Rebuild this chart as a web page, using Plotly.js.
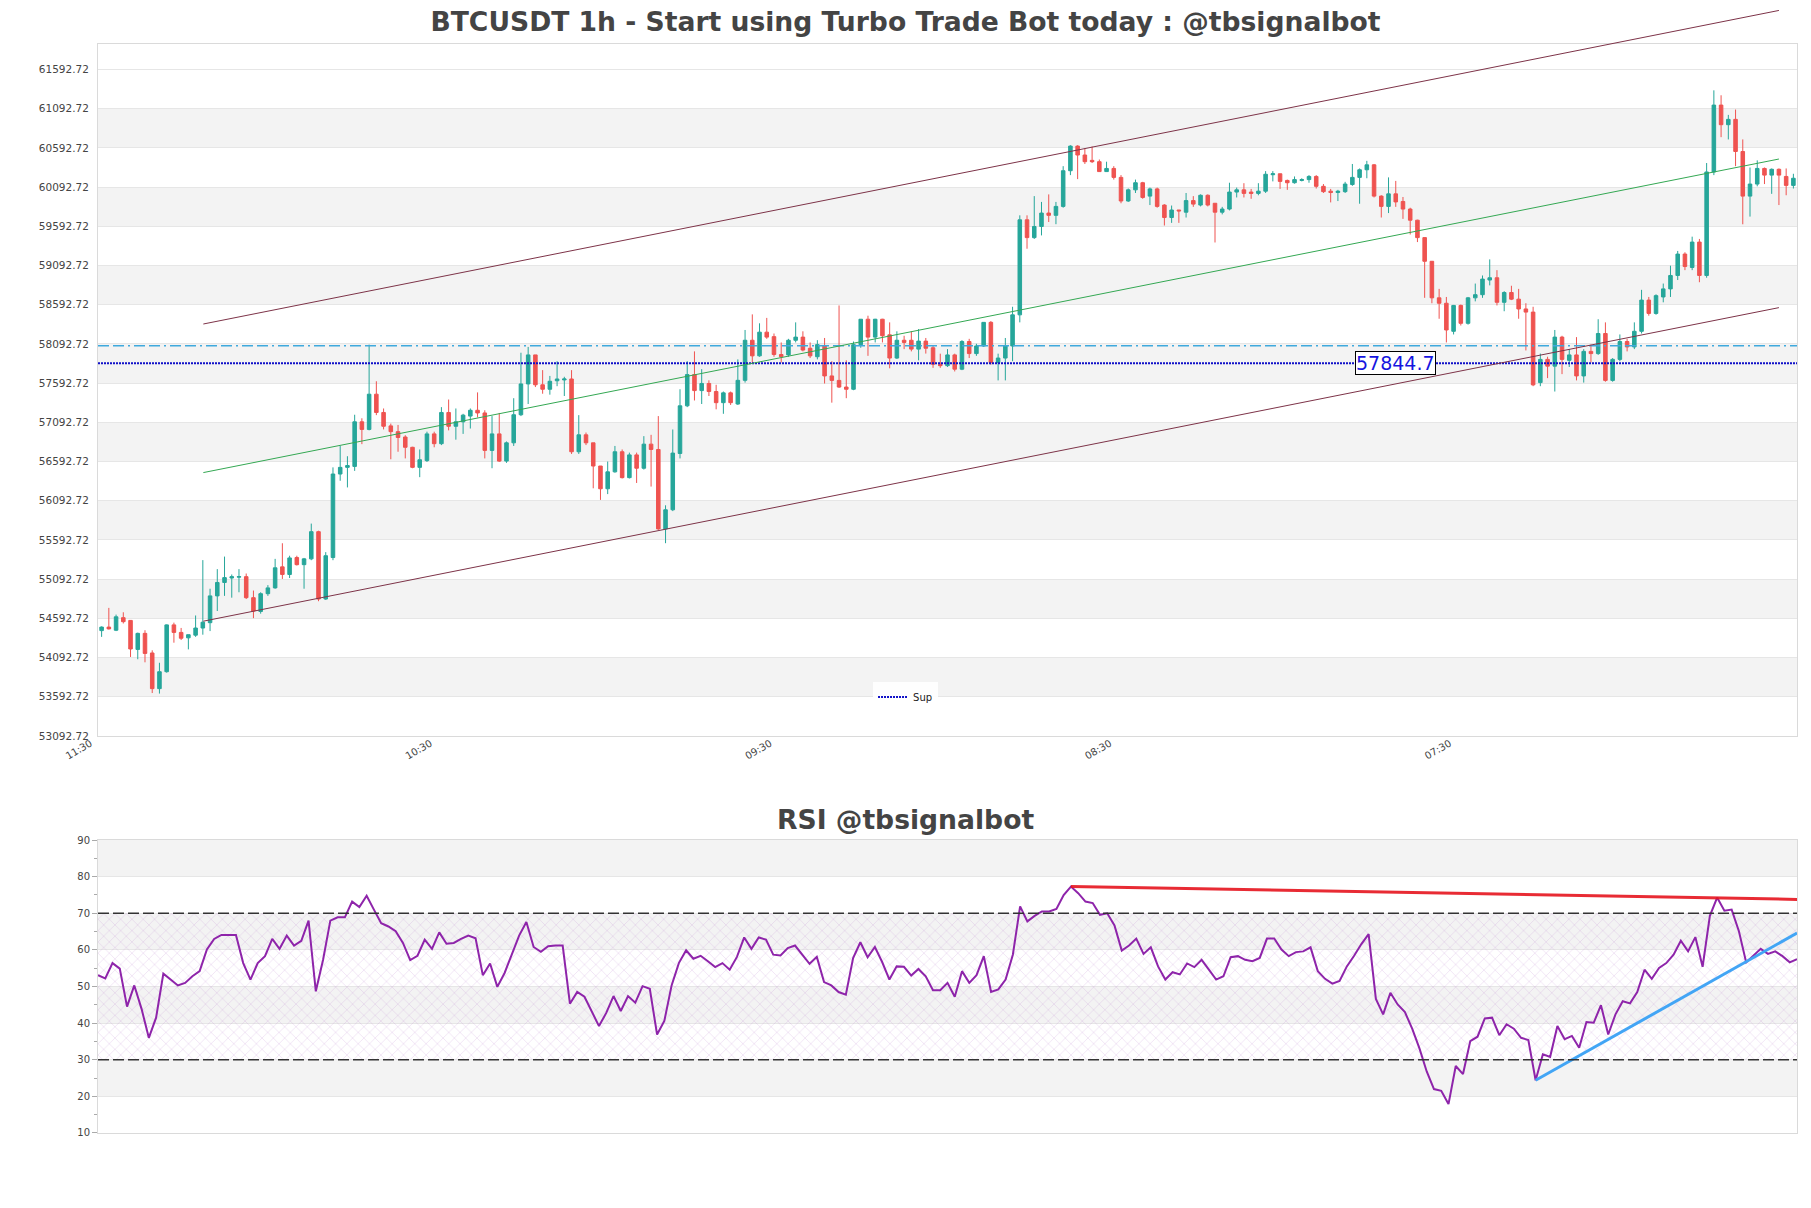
<!DOCTYPE html>
<html>
<head>
<meta charset="utf-8">
<script src="https://cdn.plot.ly/plotly-3.0.1.min.js"></script>
<style>html,body{margin:0;padding:0;background:#fff;}#chart{width:1811px;height:1208px;}</style>
</head>
<body>
<div id="chart"></div>
<script>
const chartTitle = 'BTCUSDT 1h - Start using Turbo Trade Bot today : @tbsignalbot';
const rsiTitle = 'RSI @tbsignalbot';

const open = [54436,54481,54441,54601,54566,54196,54401,54151,53696,53912,
54509,54413,54344,54378,54469,54537,54879,55050,55107,55118,
55124,54856,54680,54907,54981,55249,55152,55368,55277,55351,
55698,54839,55368,56433,56518,56530,57099,57002,57451,57218,
57047,56973,56905,56774,56518,56604,56945,56820,57218,57042,
57099,57172,57246,57212,56734,56945,56598,56831,57189,57582,
57952,57571,57514,57622,57633,57645,56717,56933,56831,56535,
56245,56461,56717,56387,56677,56507,56814,56746,55733,55977,
56695,57303,57701,57497,57588,57485,57343,57468,57326,57628,
58139,57940,58242,58185,57957,57952,58139,58179,58037,57929,
58066,57684,57627,57542,57514,58083,58407,58179,58407,58208,
57912,58139,58139,58026,58128,58043,57832,57815,57952,57770,
58123,57969,58066,58367,57855,57912,58066,58463,59675,59448,
59590,59761,59732,59846,60301,60615,60501,60433,60416,60290,
60330,60216,59915,60057,60148,59977,60069,59863,59704,59800,
59772,59920,59863,59988,59886,59772,59812,60029,60057,60029,
60012,60040,60250,60262,60177,60148,60177,60188,60228,60102,
60040,60023,60034,60125,60216,60313,60376,59977,59846,60006,
59909,59812,59670,59448,59146,58680,58611,58253,58583,58355,
58680,58720,58907,58936,58623,58748,58663,58538,58498,57599,
57895,57809,58179,57883,57952,57684,57997,57969,58225,57627,
57895,58123,58054,58253,58651,58481,58691,58794,58965,59238,
59067,59391,58965,60285,61138,60888,60956,60546,59977,60131,
60330,60245,60319,60228,60114];

const high = [54490,54726,54640,54670,54570,54410,54441,54185,54026,54515,
54538,54470,54384,54629,55335,54970,55220,55380,55152,55220,
55164,54947,54925,55016,55351,55550,55391,55391,55363,55801,
55710,55437,56518,56791,56660,57189,57144,58083,57616,57269,
57076,57059,56928,56780,56746,56973,56973,57286,57383,57269,
57201,57269,57474,57246,57172,57212,56848,57400,57980,58054,
57952,57758,57684,57872,57673,57758,57184,56962,56831,56535,
56592,56791,56746,56706,56706,56916,56933,57172,56034,57001,
57514,57872,57997,57770,57628,57571,57485,57485,57895,58270,
58469,58355,58424,58225,58111,58157,58367,58253,58111,58140,
58168,57872,58583,57883,58123,58407,58452,58412,58412,58367,
58253,58196,58253,58282,58168,58066,57968,58026,57968,58140,
58157,58094,58367,58384,57968,58168,58566,59732,59732,59977,
59903,59999,59903,60359,60626,60626,60587,60609,60444,60416,
60359,60245,60074,60188,60159,60086,60086,59874,59857,59800,
60017,59977,59999,59999,59886,59840,60148,60086,60142,60069,
60142,60296,60296,60262,60188,60228,60205,60245,60245,60131,
60069,60057,60159,60387,60330,60427,60387,59988,60216,60171,
59966,59829,59676,59448,59150,58794,58691,58589,58594,58691,
58862,58965,59170,59033,58765,58834,58794,58611,58566,57969,
57929,58270,58196,58026,58179,58026,58083,58407,58367,57912,
58213,58157,58367,58782,58691,58725,58862,59090,59278,59261,
59460,59431,60399,61326,61263,61013,61081,60700,60342,60433,
60342,60330,60330,60330,60262];

const low = [54356,54450,54430,54527,54100,54071,54032,53640,53633,53900,
54282,54316,54197,54356,54384,54430,54686,54879,54856,54925,
54839,54595,54652,54879,54970,55095,55107,55266,54970,55334,
54811,54828,55334,56347,56262,56473,56814,56990,57184,57002,
56621,56717,56632,56507,56393,56587,56774,56802,56990,56871,
56945,57013,57155,56632,56507,56587,56575,56791,57172,57326,
57542,57457,57445,57553,57428,56689,56689,56802,56251,56103,
56177,56450,56376,56376,56319,56490,56273,55721,55551,55960,
56632,57286,57371,57326,57428,57258,57201,57314,57314,57599,
57838,57929,58157,57929,57855,57929,58111,57997,57912,57895,
57587,57343,57531,57400,57502,58043,57940,58111,58111,57781,
57900,58026,57997,57883,57969,57787,57787,57798,57741,57758,
57912,57940,58054,57827,57627,57627,57872,58367,59306,59431,
59476,59647,59619,59829,60245,60194,60387,60399,60285,60285,
60188,59886,59903,60017,59943,59863,59829,59602,59636,59636,
59704,59840,59846,59846,59386,59744,59795,59960,59960,59943,
59988,60017,60165,60069,60057,60136,60165,60148,60074,60017,
59897,59914,60017,60108,59880,60205,59960,59704,59761,59840,
59687,59488,59391,58680,58611,58413,58111,58213,58327,58338,
58635,58680,58839,58583,58509,58651,58413,58009,57553,57553,
57656,57485,57707,57798,57627,57599,57855,57952,57610,57610,
57872,57997,58026,58225,58452,58464,58623,58691,58907,59033,
59033,58879,58936,60245,60729,60700,60359,59618,59716,60102,
60131,60006,59863,59988,60074];

const close = [54481,54458,54612,54550,54202,54401,54145,53696,53912,54509,
54413,54339,54384,54469,54543,54879,55050,55112,55124,55124,
54856,54686,54907,54981,55237,55152,55363,55277,55351,55698,
54839,55391,56433,56518,56541,57099,57002,57451,57218,57042,
56973,56899,56774,56518,56615,56945,56820,57218,57042,57099,
57184,57246,57212,56734,56945,56598,56831,57189,57582,57952,
57571,57514,57616,57645,57645,56717,56933,56831,56535,56245,
56461,56717,56387,56677,56507,56814,56746,55733,55977,56700,
57303,57701,57497,57588,57485,57343,57468,57343,57628,58139,
57940,58242,58179,57957,57929,58139,58179,58014,57940,58083,
57684,57627,57542,57514,58083,58407,58179,58407,58196,57912,
58139,58111,58026,58128,58037,57832,57815,57952,57770,58123,
57969,58066,58367,57855,57912,58066,58463,59675,59448,59590,
59761,59732,59846,60301,60615,60501,60416,60416,60290,60330,
60216,59915,60057,60148,59960,60069,59846,59704,59800,59789,
59920,59875,59988,59863,59772,59812,60029,60057,60012,60012,
60040,60256,60262,60165,60148,60188,60188,60228,60102,60034,
60023,60040,60131,60216,60313,60376,59977,59846,60006,59903,
59812,59670,59448,59146,58680,58611,58270,58583,58355,58680,
58720,58919,58936,58623,58748,58663,58538,58498,57570,57895,
57809,58179,57895,57952,57684,57997,57969,58225,57627,57895,
58123,58054,58253,58651,58481,58708,58794,58965,59238,59079,
59391,58965,60285,61138,60888,60956,60546,59977,60131,60330,
60245,60319,60245,60114,60205];

const rsi = [53.1,52.2,56.4,54.9,44.5,50.3,43.9,36.0,41.5,53.5,
51.9,50.3,51.0,52.8,54.2,60.1,63.0,64.1,64.1,64.1,
56.4,51.9,56.4,58.3,63.0,60.3,63.9,61.2,62.5,68.0,
48.7,57.3,68.0,68.9,68.9,73.2,71.7,74.8,71.0,67.3,
66.4,65.1,61.9,57.2,58.4,62.8,60.3,64.8,61.7,61.9,
63.0,63.9,63.2,53.1,56.3,49.9,53.7,59.0,63.9,67.6,
60.8,59.5,61.0,61.2,61.2,45.3,48.5,47.2,43.0,39.2,
42.8,47.4,43.3,47.4,45.6,50.1,49.4,36.9,40.6,50.3,
56.4,59.9,57.6,58.4,56.9,55.3,56.4,54.6,58.1,63.4,
60.3,63.4,62.8,58.7,58.5,60.5,61.2,58.7,56.2,58.1,
51.2,50.3,48.5,47.8,57.8,62.1,58.0,60.8,56.7,51.9,
55.5,55.4,53.0,54.8,52.8,49.0,49.0,51.0,47.2,54.2,
51.0,53.1,58.3,48.5,49.2,51.9,58.7,71.9,67.8,69.3,
70.5,70.5,71.2,75.0,77.3,75.5,73.2,72.8,69.6,70.0,
66.7,59.8,61.2,63.1,58.9,60.7,55.5,51.9,53.9,53.3,
56.3,55.3,57.3,54.6,51.9,52.8,58.0,58.3,57.3,56.9,
57.8,63.1,63.1,60.1,58.3,59.4,59.6,60.7,54.2,52.1,
50.8,51.5,55.5,58.4,61.6,64.3,46.6,42.4,48.3,45.1,
43.0,38.5,33.1,26.8,22.0,21.5,17.9,28.3,26.1,35.1,
36.3,41.3,41.5,36.7,39.7,38.5,36.0,35.4,24.4,31.5,
30.8,39.2,35.6,36.5,33.3,40.3,40.1,44.9,36.9,42.4,
46.0,45.4,48.5,54.6,52.1,55.1,56.4,58.7,62.5,59.6,
63.5,55.4,69.3,74.3,70.7,71.0,65.1,56.6,58.4,60.3,
58.9,59.6,58.3,56.6,57.5];

const xTickPositions = [0, 47, 94, 141, 188];
const xTickLabels = ['11:30', '10:30', '09:30', '08:30', '07:30'];
const yTickValues = [53092.72,53592.72,54092.72,54592.72,55092.72,55592.72,56092.72,56592.72,57092.72,57592.72,58092.72,58592.72,59092.72,59592.72,60092.72,60592.72,61092.72,61592.72];
const yRange = [53092.72, 61917];
const rsiTicks = [10,20,30,40,50,60,70,80,90];

const supportLevel = 57844.7;
const resistanceLevel = 58070;
// channel: [startIndex, endIndex], mid line prices, half-width
const channelIdx = [14, 232];
const channelMid = [56450, 60450];
const channelHalfWidth = 1895;
// RSI trendlines
const rsiResX = [134, 234];
const rsiResY = [77.3, 73.8];
const rsiSupX = [198, 234];
const rsiSupY = [24.4, 64.6];
const rsiBounds = [30, 70];

const N = close.length;
const idx = close.map((_, i) => i);
const mainXRange = [-0.5, N - 0.5];
const rsiXRange = [idx[0], idx[N - 1]];

const FONT = 'DejaVu Sans, Verdana, sans-serif';
const UP = '#26a69a', DOWN = '#ef5350';
const GRID = '#e6e6e6', FRAME = '#dadada', BAND = '#f3f3f3';

const traces = [
  {
    type: 'candlestick', x: idx, open: open, high: high, low: low, close: close,
    xaxis: 'x', yaxis: 'y', name: 'BTCUSDT', showlegend: false,
    increasing: {line: {color: UP, width: 1}, fillcolor: UP},
    decreasing: {line: {color: DOWN, width: 1}, fillcolor: DOWN},
    whiskerwidth: 0
  },
  {
    type: 'scatter', mode: 'lines', x: mainXRange, y: [supportLevel, supportLevel],
    xaxis: 'x', yaxis: 'y', name: 'Sup', showlegend: true,
    line: {color: '#1010c8', width: 2, dash: '2px,1px'}, hoverinfo: 'skip'
  },
  {
    type: 'scatter', mode: 'none', fill: 'toself',
    x: [rsiXRange[0], rsiXRange[1], rsiXRange[1], rsiXRange[0], rsiXRange[0]],
    y: [rsiBounds[0], rsiBounds[0], rsiBounds[1], rsiBounds[1], rsiBounds[0]],
    xaxis: 'x2', yaxis: 'y2', showlegend: false, hoverinfo: 'skip',
    fillcolor: 'rgba(0,0,0,0)',
    fillpattern: {shape: 'x', fgcolor: 'rgba(185,120,205,0.45)', bgcolor: 'rgba(0,0,0,0)', size: 8, solidity: 0.1}
  },
  {
    type: 'scatter', mode: 'lines', x: idx, y: rsi, xaxis: 'x2', yaxis: 'y2',
    name: 'RSI', showlegend: false, line: {color: '#8e24aa', width: 2}
  },
  {
    type: 'scatter', mode: 'lines', x: rsiResX, y: rsiResY, xaxis: 'x2', yaxis: 'y2',
    showlegend: false, line: {color: 'rgba(230,20,30,0.9)', width: 3}
  },
  {
    type: 'scatter', mode: 'lines', x: rsiSupX, y: rsiSupY, xaxis: 'x2', yaxis: 'y2',
    showlegend: false, line: {color: '#42a5f5', width: 3}
  }
];

const shapes = [];
for (let k = 1; k + 1 < yTickValues.length; k += 2) {
  shapes.push({type: 'rect', xref: 'paper', x0: 0, x1: 1, yref: 'y',
    y0: yTickValues[k], y1: yTickValues[k + 1], fillcolor: BAND, line: {width: 0}, layer: 'below'});
}
for (let k = 1; k + 1 < rsiTicks.length; k += 2) {
  shapes.push({type: 'rect', xref: 'paper', x0: 0, x1: 1, yref: 'y2',
    y0: rsiTicks[k], y1: rsiTicks[k + 1], fillcolor: BAND, line: {width: 0}, layer: 'below'});
}
shapes.push({type: 'line', xref: 'paper', x0: 0, x1: 1, yref: 'y',
  y0: resistanceLevel, y1: resistanceLevel, line: {color: '#3fa9dd', width: 1.5, dash: '11px,4px,11px,4px,2px,4px'}, layer: 'above'});
rsiBounds.forEach(v => {
  shapes.push({type: 'line', xref: 'paper', x0: 0, x1: 1, yref: 'y2', y0: v, y1: v,
    line: {color: '#333', width: 1.5, dash: '11px,4px'}, layer: 'above'});
});

const annotations = [
  {text: '<b>' + rsiTitle + '</b>', xref: 'paper', yref: 'paper', x: 0.4753, y: 0.2883,
   xanchor: 'center', yanchor: 'middle', showarrow: false,
   font: {size: 26.6, color: '#444', family: FONT}},
  {text: String(supportLevel), xref: 'x', yref: 'y', x: 179, y: supportLevel,
   xanchor: 'center', yanchor: 'middle', showarrow: false,
   font: {size: 19, color: '#1515e0', family: FONT},
   bgcolor: '#fff', bordercolor: '#000', borderwidth: 1, borderpad: 0}
];
// regression channel lines (drawn as unclipped annotation arrows in data coordinates)
[[-1, '#7d3348'], [0, '#34a853'], [1, '#7d3348']].forEach(([m, col]) => {
  annotations.push({text: ' ', xref: 'x', yref: 'y', axref: 'x', ayref: 'y',
    x: channelIdx[1], y: channelMid[1] + m * channelHalfWidth,
    ax: channelIdx[0], ay: channelMid[0] + m * channelHalfWidth,
    showarrow: true, arrowhead: 0, arrowwidth: 1, arrowcolor: col,
    standoff: 0, startstandoff: 0, font: {size: 1}, borderpad: 0});
});

const layout = {
  width: 1811, height: 1208,
  paper_bgcolor: '#fff', plot_bgcolor: '#fff',
  font: {family: FONT, color: '#444', size: 10},
  margin: {l: 98, r: 14, t: 44, b: 75},
  title: {text: '<b>' + chartTitle + '</b>', x: 0.5, xref: 'container', xanchor: 'center',
    y: 1 - 22 / 1208, yref: 'container', yanchor: 'middle',
    font: {size: 26.6, color: '#444', family: FONT}},
  showlegend: true,
  legend: {x: 0.4753, y: 0.4004, xanchor: 'center', yanchor: 'middle', orientation: 'h',
    bgcolor: 'rgba(255,255,255,0.9)', font: {size: 10, color: '#222', family: FONT}},
  xaxis: {domain: [0, 1], anchor: 'y', range: mainXRange, tickmode: 'array',
    tickvals: xTickPositions, ticktext: xTickLabels, tickangle: -30,
    tickfont: {size: 10, color: '#444'}, showgrid: false, zeroline: false,
    showline: true, linecolor: FRAME, mirror: true, ticks: '',
    ticklabelshift: -11, ticklabelstandoff: -3,
    rangeslider: {visible: false}},
  yaxis: {domain: [0.3646, 1], anchor: 'x', range: yRange, tickmode: 'array',
    tickvals: yTickValues, ticktext: yTickValues.map(v => v.toFixed(2)),
    tickfont: {size: 10.5, color: '#444'}, gridcolor: GRID, zeroline: false,
    showline: true, linecolor: FRAME, mirror: true,
    ticks: 'outside', ticklen: 6, tickcolor: 'rgba(0,0,0,0)'},
  xaxis2: {domain: [0, 1], anchor: 'y2', range: rsiXRange, showticklabels: false,
    showgrid: false, zeroline: false, showline: true, linecolor: FRAME, mirror: true, ticks: ''},
  yaxis2: {domain: [0, 0.269], anchor: 'x2', range: [rsiTicks[0], rsiTicks[rsiTicks.length - 1]],
    tickmode: 'array', tickvals: rsiTicks, tickfont: {size: 10, color: '#444'},
    gridcolor: GRID, zeroline: false, showline: true, linecolor: FRAME, mirror: true,
    ticks: 'outside', ticklen: 5, tickcolor: '#aaa',
    minor: {ticks: 'outside', ticklen: 3, dtick: 5, tick0: 5, tickcolor: '#aaa', showgrid: false}},
  shapes: shapes,
  annotations: annotations
};

Plotly.newPlot('chart', traces, layout, {displayModeBar: false, staticPlot: true});
</script>
</body>
</html>
